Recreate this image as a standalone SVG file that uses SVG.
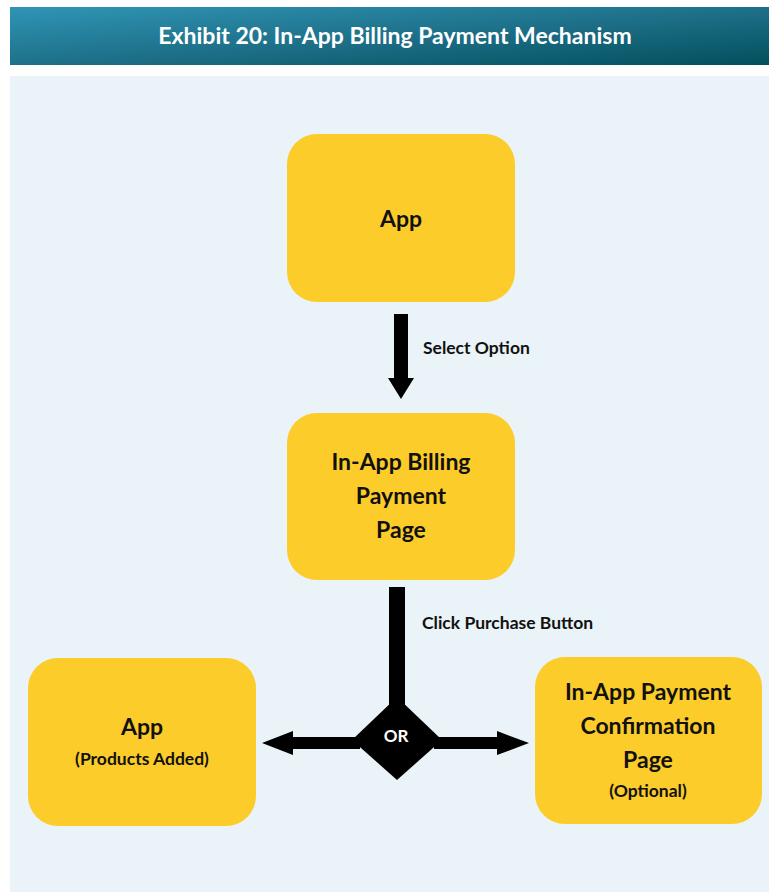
<svg xmlns="http://www.w3.org/2000/svg" width="769" height="892" viewBox="0 0 769 892">
  <defs>
    <linearGradient id="hdr" x1="0" y1="0" x2="1" y2="1" gradientUnits="objectBoundingBox">
      <stop offset="0" stop-color="#2f95b6"/>
      <stop offset="0.55" stop-color="#1c6d85"/>
      <stop offset="1" stop-color="#02505d"/>
    </linearGradient>
    <style>
      .box { fill: #fccc2a; }
      .t { font-family: Lato, "Open Sans", sans-serif; font-weight: bold; fill: #111; text-anchor: middle; }
      .big { font-size: 23px; }
      .small { font-size: 17.5px; }
      .lbl { font-family: Lato, "Open Sans", sans-serif; font-weight: bold; font-size: 17.5px; fill: #111; }
      .conn { fill: #000; }
    </style>
  </defs>

  <!-- page -->
  <rect x="0" y="0" width="769" height="892" fill="#ffffff"/>
  <rect x="10" y="7" width="759" height="58" fill="url(#hdr)"/>
  <text x="395" y="44" font-family="Lato, 'Open Sans', sans-serif" font-weight="bold" font-size="23" fill="#ffffff" text-anchor="middle">Exhibit 20: In-App Billing Payment Mechanism</text>
  <rect x="10" y="76" width="759" height="816" fill="#eaf3f7"/>

  <!-- connectors -->
  <g id="connectors">
    <!-- App to billing page -->
    <polygon class="conn" points="394,314 408,314 408,378 414,378 401,399 388,378 394,378"/>
    <text class="lbl" x="423" y="354">Select Option</text>
    <!-- billing page to OR split -->
    <rect class="conn" x="389" y="587" width="16" height="125"/>
    <polygon class="conn" points="397,697 442,740 397,780 352,740"/>
    <polygon class="conn" points="360,737 293,737 293,731 262,743 293,755 293,749 360,749"/>
    <polygon class="conn" points="434,737 497,737 497,731 529,743 497,755 497,749 434,749"/>
    <text x="396" y="742" font-family="Lato, 'Open Sans', sans-serif" font-weight="bold" font-size="17" fill="#ffffff" text-anchor="middle">OR</text>
    <text class="lbl" x="422" y="629">Click Purchase Button</text>
  </g>

  <g id="app">
    <rect class="box" x="287" y="134" width="228" height="168" rx="30"/>
    <text class="t big" x="401" y="227">App</text>
  </g>

  <g id="billing-page">
    <rect class="box" x="287" y="413" width="228" height="167" rx="30"/>
    <text class="t big" x="401" y="470">In-App Billing</text>
    <text class="t big" x="401" y="504">Payment</text>
    <text class="t big" x="401" y="538">Page</text>
  </g>

  <g id="app-products">
    <rect class="box" x="28" y="658" width="228" height="168" rx="30"/>
    <text class="t big" x="142" y="735">App</text>
    <text class="t small" x="142" y="765">(Products Added)</text>
  </g>

  <g id="confirmation-page">
    <rect class="box" x="535" y="657" width="227" height="167" rx="30"/>
    <text class="t big" x="648" y="700">In-App Payment</text>
    <text class="t big" x="648" y="734">Confirmation</text>
    <text class="t big" x="648" y="768">Page</text>
    <text class="t small" x="648" y="797">(Optional)</text>
  </g>
</svg>
